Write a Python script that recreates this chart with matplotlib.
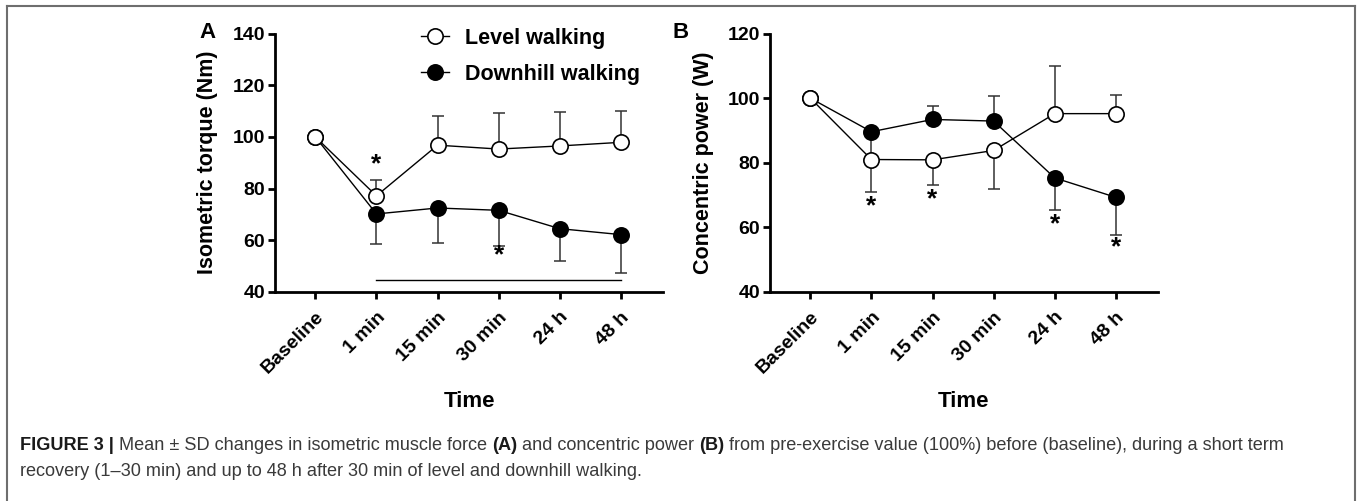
import matplotlib
matplotlib.use("Agg")
import matplotlib.pyplot as plt
from matplotlib.lines import Line2D
import numpy as np

# ---------------- data ----------------
times = ["Baseline", "1 min", "15 min", "30 min", "24 h", "48 h"]

# Panel A: isometric torque (Nm)
a_level = [100, 77.2, 96.8, 95.3, 96.5, 97.9]
a_level_err_lo = [0, 0, 0, 0, 0, 0]
a_level_err_hi = [0, 6.3, 11.2, 13.8, 13.2, 12.1]
a_down = [100, 70.2, 72.5, 71.6, 64.5, 62.2]
a_down_err_lo = [0, 11.5, 13.7, 13.8, 12.6, 14.8]
a_down_err_hi = [0, 0, 0, 0, 0, 0]
a_star_x = [1, 3]
a_star_y = [89.5, 54.0]
a_sig_line = (1, 5, 44.6)

# Panel B: concentric power (W)
b_level = [100, 81.0, 80.9, 83.8, 95.2, 95.2]
b_level_err_lo = [0, 10.0, 7.7, 12.0, 0, 0]
b_level_err_hi = [0, 0, 0, 0, 14.8, 5.9]
b_down = [100, 89.6, 93.4, 92.9, 75.3, 69.3]
b_down_err_lo = [0, 8.6, 0, 0, 9.8, 11.6]
b_down_err_hi = [0, 0, 4.2, 7.8, 0, 0]
b_star_x = [1, 2, 4, 5]
b_star_y = [66.4, 68.7, 61.1, 53.7]

legend_labels = ["Level walking", "Downhill walking"]

# ---------------- figure ----------------
W, H = 1357, 501
DPI = 100
fig = plt.figure(figsize=(W / DPI, H / DPI), dpi=DPI)
FONT = ["Liberation Sans", "DejaVu Sans"]
plt.rcParams["font.family"] = FONT


def px_axes(x0, y0, x1, y1):
    return fig.add_axes([x0 / W, 1 - y1 / H, (x1 - x0) / W, (y1 - y0) / H])


def style_axes(ax, ylim, yticks, ylabel, ylab_x):
    ax.set_xlim(-0.66, 5.69)
    ax.set_ylim(*ylim)
    ax.set_yticks(yticks)
    ax.set_xticks(range(len(times)))
    ax.set_xticklabels(times, rotation=45, ha="right", va="top",
                       rotation_mode="anchor", fontsize=14, fontweight="bold")
    for lab in ax.get_yticklabels():
        lab.set_fontsize(14)
        lab.set_fontweight("bold")
    for s in ["top", "right"]:
        ax.spines[s].set_visible(False)
    for s in ["left", "bottom"]:
        ax.spines[s].set_linewidth(2.0)
    ax.tick_params(axis="both", direction="out", length=5, width=2.0, pad=2)
    ax.tick_params(axis="x", pad=7)
    ax.set_ylabel(ylabel, fontsize=15.5, fontweight="bold")
    ax.yaxis.set_label_coords(ylab_x, 0.5)
    ax.set_xlabel("Time", fontsize=16, fontweight="bold")
    ax.xaxis.set_label_coords(0.5, (292 - 391) / (292 - 33.5))
    ax.patch.set_alpha(0)


def plot_series(ax, y, lo, hi, filled):
    x = np.arange(len(times))
    ax.errorbar(x, y, yerr=[lo, hi], fmt="none", ecolor="#333333",
                elinewidth=1.1, capsize=4.5, capthick=1.1, zorder=2)
    ax.plot(x, y, color="black", lw=1.0, marker="o", ms=11, mfc="black" if filled else "white",
            mec="black", mew=1.2, zorder=3)


# Panel A
axA = px_axes(275, 33.5, 663, 292)
plot_series(axA, a_down, a_down_err_lo, a_down_err_hi, True)
plot_series(axA, a_level, a_level_err_lo, a_level_err_hi, False)
style_axes(axA, (40, 140), [40, 60, 80, 100, 120, 140], "Isometric torque (Nm)",
           (218 - 275) / 388)
for xs, ys in zip(a_star_x, a_star_y):
    axA.text(xs, ys, "*", ha="center", va="center", fontsize=19, fontweight="bold")
axA.plot([a_sig_line[0], a_sig_line[1]], [a_sig_line[2], a_sig_line[2]],
         color="black", lw=1.0)

# Panel B
axB = px_axes(770, 33.5, 1158, 292)
plot_series(axB, b_down, b_down_err_lo, b_down_err_hi, True)
plot_series(axB, b_level, b_level_err_lo, b_level_err_hi, False)
style_axes(axB, (40, 120), [40, 60, 80, 100, 120], "Concentric power (W)",
           (714 - 770) / 388)
for xs, ys in zip(b_star_x, b_star_y):
    axB.text(xs, ys, "*", ha="center", va="center", fontsize=19, fontweight="bold")

# Legend (in panel A)
handles = [
    Line2D([], [], color="black", lw=1.0, marker="o", ms=11, mfc="white", mec="black", mew=1.2),
    Line2D([], [], color="black", lw=1.0, marker="o", ms=11, mfc="black", mec="black", mew=1.2),
]
leg = fig.legend(handles, legend_labels, loc="upper left",
                 bbox_to_anchor=(421 / W, 1 - 28 / H), frameon=False,
                 prop={"size": 15.5, "weight": "bold"}, handlelength=1.3,
                 handletextpad=0.75, labelspacing=0.68, borderpad=0, borderaxespad=0)

# Panel letters
fig.text(208 / W, 1 - 33 / H, "A", ha="center", va="center", fontsize=16, fontweight="bold")
fig.text(681 / W, 1 - 33 / H, "B", ha="center", va="center", fontsize=16, fontweight="bold")

# Outer frame
fcol = "#6e6e6e"
fig.add_artist(Line2D([7 / W, 7 / W], [0, 1 - 6 / H], color=fcol, lw=1.5, transform=fig.transFigure))
fig.add_artist(Line2D([1355 / W, 1355 / W], [0, 1 - 6 / H], color=fcol, lw=1.5, transform=fig.transFigure))
fig.add_artist(Line2D([7 / W, 1355 / W], [1 - 6 / H, 1 - 6 / H], color=fcol, lw=1.5, transform=fig.transFigure))

# Caption
cap1 = [("FIGURE 3 |", "bold", "#1a1a1a"),
        (" Mean \u00b1 SD changes in isometric muscle force ", "normal", "#3a3a3a"),
        ("(A)", "bold", "#1a1a1a"),
        (" and concentric power ", "normal", "#3a3a3a"),
        ("(B)", "bold", "#1a1a1a"),
        (" from pre-exercise value (100%) before (baseline), during a short term", "normal", "#3a3a3a")]
cap2 = [("recovery (1\u201330 min) and up to 48 h after 30 min of level and downhill walking.", "normal", "#3a3a3a")]

renderer = fig.canvas.get_renderer()


def draw_line(segs, x0, y, size):
    x = x0
    made = []
    for txt, wt, col in segs:
        t = fig.text(x / W, 1 - y / H, txt, fontsize=size, fontweight=wt, color=col,
                     ha="left", va="center")
        bb = t.get_window_extent(renderer=renderer)
        x += bb.width
        made.append(t)
    return x, made


size = 11.5
end, made = draw_line(cap1, 20, 446, size)
for t in made:
    t.remove()
size = size * (1290 - 20) / (end - 20)
draw_line(cap1, 20, 446, size)
draw_line(cap2, 20, 471, size)

fig.savefig("out.png", dpi=DPI)
